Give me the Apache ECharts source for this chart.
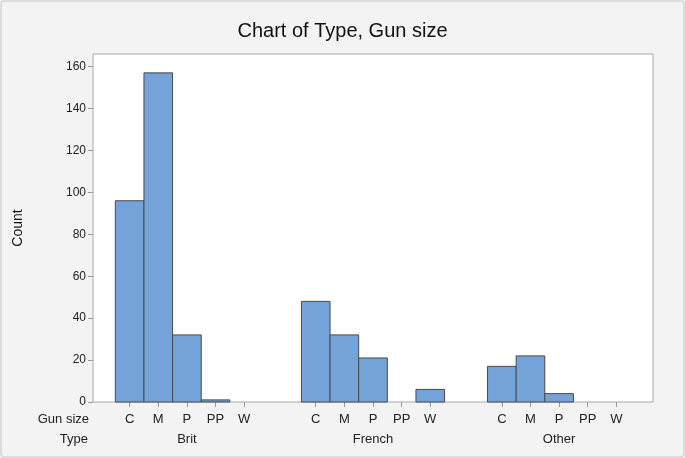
<!DOCTYPE html>
<html>
<head>
<meta charset="utf-8">
<script src="https://cdn.jsdelivr.net/npm/echarts@6/dist/echarts.min.js"></script>
<style>
html,body{margin:0;padding:0;background:#f3f3f3;}
#frame{position:absolute;left:0;top:0;width:681px;height:454px;border:2px solid #dcdcdc;border-radius:4px;background:#f3f3f3;}
#chart{width:685px;height:458px;position:absolute;left:0;top:0;}
</style>
</head>
<body>
<div id="frame"></div>
<div id="chart"></div>
<script>
const types = ['Brit', 'French', 'Other'];
const gunSizes = ['C', 'M', 'P', 'PP', 'W'];
const britCounts = [96, 157, 32, 1, 0];
const frenchCounts = [48, 32, 21, 0, 6];
const otherCounts = [17, 22, 4, 0, 0];
const yTicks = [0, 20, 40, 60, 80, 100, 120, 140, 160];

const groupStep = 6.5;
const allCounts = [britCounts, frenchCounts, otherCounts];
const barData = [];
const tickPos = [];
const tickLabel = {};
allCounts.forEach((arr, g) => {
  arr.forEach((v, i) => {
    const x = g * groupStep + i;
    tickPos.push(x);
    tickLabel[x.toFixed(2)] = gunSizes[i];
    if (v > 0) barData.push([x, v]);
  });
});
const typePos = types.map((t, g) => g * groupStep + 2);
const typeLabel = {};
types.forEach((t, g) => { typeLabel[typePos[g].toFixed(2)] = t; });

const chart = echarts.init(document.getElementById('chart'), null, {renderer: 'canvas'});
const font = 'Liberation Sans, Arial, sans-serif';
chart.setOption({
  backgroundColor: 'transparent',
  animation: false,
  title: {
    text: 'Chart of Type, Gun size',
    left: 'center',
    top: 16,
    textStyle: {fontFamily: font, fontSize: 20, fontWeight: 'normal', color: '#111'}
  },
  grid: {
    left: 93, right: 32, top: 54, bottom: 56,
    show: true, backgroundColor: '#fff', borderColor: '#a8a8a8', borderWidth: 1
  },
  xAxis: [{
    type: 'value', min: -1.28, max: 18.28,
    axisLine: {show: false, onZero: false},
    splitLine: {show: false},
    axisTick: {show: true, customValues: tickPos, length: 5, lineStyle: {color: '#999'}},
    axisLabel: {
      customValues: tickPos, margin: 11,
      fontFamily: font, fontSize: 13, color: '#222',
      formatter: v => tickLabel[Number(v).toFixed(2)] || ''
    }
  }, {
    type: 'value', min: -1.28, max: 18.28, position: 'bottom',
    axisLine: {show: false, onZero: false}, splitLine: {show: false}, axisTick: {show: false},
    axisLabel: {
      customValues: typePos, margin: 31,
      fontFamily: font, fontSize: 13, color: '#222',
      formatter: v => typeLabel[Number(v).toFixed(2)] || ''
    }
  }],
  yAxis: {
    type: 'value', min: 0, max: 166,
    name: 'Count', nameLocation: 'middle', nameGap: 68,
    nameTextStyle: {fontFamily: font, fontSize: 14, color: '#111'},
    axisLine: {show: false, onZero: false},
    splitLine: {show: false},
    axisTick: {show: true, customValues: yTicks, length: 5, lineStyle: {color: '#999'}},
    axisLabel: {customValues: yTicks, margin: 7, fontFamily: font, fontSize: 12, color: '#222'}
  },
  graphic: [
    {type: 'text', right: 685 - 89, top: 413, style: {text: 'Gun size', font: '13px ' + font, fill: '#222', textAlign: 'right'}},
    {type: 'text', right: 685 - 88, top: 433, style: {text: 'Type', font: '13px ' + font, fill: '#222', textAlign: 'right'}}
  ],
  series: [{
    type: 'custom',
    xAxisIndex: 0,
    data: barData,
    renderItem: function (params, api) {
      const x = api.value(0), y = api.value(1);
      const p1 = api.coord([x - 0.5, y]);
      const p2 = api.coord([x + 0.5, 0]);
      return {
        type: 'rect',
        shape: {x: p1[0], y: p1[1], width: p2[0] - p1[0], height: p2[1] - p1[1]},
        style: {fill: '#74a3da', stroke: '#4a4a4a', lineWidth: 1}
      };
    }
  }]
});
</script>
</body>
</html>
